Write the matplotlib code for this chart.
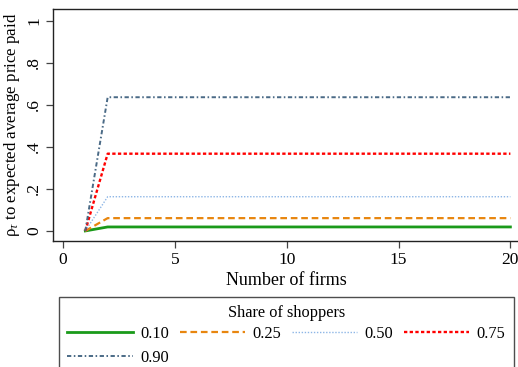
import matplotlib
matplotlib.use("Agg")
import matplotlib.pyplot as plt

plt.rcParams['font.family'] = ['Liberation Serif', 'DejaVu Serif']
plt.rcParams['mathtext.fontset'] = 'custom'
plt.rcParams['mathtext.rm'] = 'Liberation Serif'
plt.rcParams['mathtext.it'] = 'Liberation Serif:italic'

# number of firms and the pass-through for each share of shoppers
firms = list(range(1, 21))
shares = ["0.10", "0.25", "0.50", "0.75", "0.90"]
plateau = [0.019, 0.061, 0.163, 0.368, 0.637]
series = [[0.0] + [p] * (len(firms) - 1) for p in plateau]

x_ticks = [0, 5, 10, 15, 20]
y_ticks = [0, 0.2, 0.4, 0.6, 0.8, 1.0]
y_tick_labels = ["0", ".2", ".4", ".6", ".8", "1"]

# line styles per series
colors = ["#1a9a1a", "#e8860f", "#8db6e6", "#ff0000", "#4a6a86"]
styles = ["-", (0, (3.0, 1.7)), (0, (1, 1.2)), (0, (1.4, 1.0)), (0, (2.2, 1.3, 0.8, 1.3))]
widths = [2.0, 1.6, 1.0, 1.7, 1.4]

fig = plt.figure(figsize=(5.18, 3.67), dpi=100)
ax = fig.add_axes([0.1029, 0.3433, 0.901, 0.6314])

lines = []
for vals, lab, c, ls, lw in zip(series, shares, colors, styles, widths):
    ln, = ax.plot(firms, vals, color=c, linestyle=ls, linewidth=lw, label=lab)
    lines.append(ln)

ax.set_xlim(-0.43, 20.43)
ax.set_ylim(-0.048, 1.056)
ax.set_xticks(x_ticks)
ax.set_yticks(y_ticks)
ax.set_yticklabels(y_tick_labels, rotation=90, va='center')
ax.tick_params(axis='both', labelsize=12.5, length=5, width=0.9, color='#444444', pad=3)

for s in ax.spines.values():
    s.set_linewidth(1.0)
    s.set_color('#222222')

ax.set_xlabel("Number of firms", fontsize=13, labelpad=3)
ax.set_ylabel("ρ$_\\tau$ to expected average price paid", fontsize=12.2, labelpad=3)

# legend fills column by column, so reorder to read row by row
order = [0, 4, 1, 2, 3]
leg = fig.legend([lines[i] for i in order], [shares[i] for i in order],
                 loc='upper left', bbox_to_anchor=(0.1139, 0.18, 0.878, 0.01),
                 mode='expand', ncol=4, title="Share of shoppers", fontsize=11.8,
                 title_fontsize=11.8, frameon=True, fancybox=False,
                 handlelength=4.0, handletextpad=0.45, borderpad=0.5,
                 labelspacing=0.5, borderaxespad=0)
leg.get_frame().set_edgecolor('#222222')
leg.get_frame().set_linewidth(1.0)
leg._legend_box.sep = 3

fig.savefig("out.png", dpi=100)
